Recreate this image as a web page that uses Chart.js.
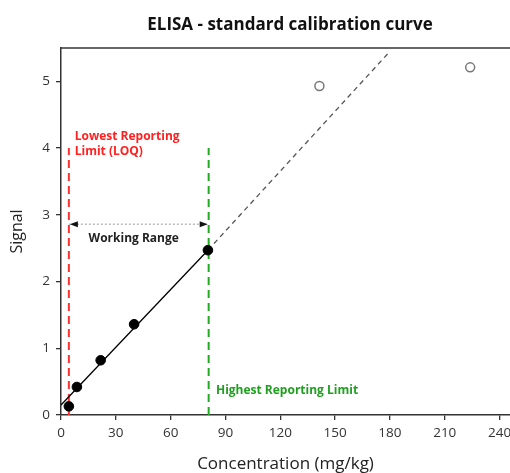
<!DOCTYPE html>
<html>
<head>
<meta charset="utf-8">
<title>ELISA calibration curve</title>
<script src="https://cdn.jsdelivr.net/npm/chart.js@4.4.1/dist/chart.umd.min.js"></script>
<style>
  html, body { margin: 0; padding: 0; background: #fff; }
  #wrap { width: 510px; height: 473px; position: relative; }
</style>
</head>
<body>
<div id="wrap"><canvas id="chart"></canvas></div>
<script>
// standards used for the fit
const stdConc = [4.3, 8.7, 21.7, 40, 80.4];
const stdSignal = [0.13, 0.42, 0.82, 1.36, 2.47];

// points above the working range (open circles)
const highConc = [141.4, 223.9];
const highSignal = [4.93, 5.21];

// fitted line, solid part and dashed extrapolation
const fitConc = [0, 80.4];
const fitSignal = [0.15, 2.47];
const extConc = [80.4, 179];
const extSignal = [2.47, 5.42];

// reporting limits
const loqConc = 4.3;
const hrlConc = 80.8;
const limitTop = 4;
const rangeSignal = 2.86;

const xTicks = [0, 30, 60, 90, 120, 150, 180, 210, 240];
const yTicks = [0, 1, 2, 3, 4, 5];

const pts = (xs, ys) => xs.map((x, i) => ({ x: x, y: ys[i] }));

Chart.defaults.font.family = '"Open Sans", sans-serif';
Chart.defaults.color = '#333';

const annotations = {
    id: 'annotations',
    afterDatasetsDraw(chart) {
        const ctx = chart.ctx;
        const xs = chart.scales.x, ys = chart.scales.y;
        const a = chart.chartArea;

        // top frame line
        ctx.save();
        ctx.strokeStyle = '#333';
        ctx.lineWidth = 1.5;
        ctx.beginPath();
        ctx.moveTo(a.left, a.top);
        ctx.lineTo(a.right, a.top);
        ctx.stroke();

        // arrow heads on the working range line
        const meta = chart.getDatasetMeta(6);
        const p0 = meta.data[0], p1 = meta.data[1];
        ctx.fillStyle = '#111';
        [[p0, 1], [p1, -1]].forEach(([p, dir]) => {
            ctx.beginPath();
            ctx.moveTo(p.x + 1 * dir, p.y);
            ctx.lineTo(p.x + 9 * dir, p.y - 3);
            ctx.lineTo(p.x + 9 * dir, p.y + 3);
            ctx.closePath();
            ctx.fill();
        });

        // labels
        ctx.textBaseline = 'middle';
        ctx.font = 'bold 12px "Open Sans", sans-serif';
        ctx.fillStyle = '#ff2020';
        ctx.textAlign = 'left';
        ctx.fillText('Lowest Reporting', xs.getPixelForValue(7.5), ys.getPixelForValue(4.18));
        ctx.fillText('Limit (LOQ)', xs.getPixelForValue(7.5), ys.getPixelForValue(3.95));

        ctx.fillStyle = '#1fa01f';
        ctx.fillText('Highest Reporting Limit', xs.getPixelForValue(84.8), ys.getPixelForValue(0.36));

        ctx.fillStyle = '#222';
        ctx.textAlign = 'center';
        ctx.fillText('Working Range', xs.getPixelForValue(39.8), ys.getPixelForValue(2.65));

        // title
        ctx.font = 'bold 17px "Open Sans", sans-serif';
        ctx.fillStyle = '#111';
        ctx.fillText('ELISA - standard calibration curve', 290, 25);
        ctx.restore();
    }
};

new Chart(document.getElementById('chart'), {
    type: 'scatter',
    data: {
        datasets: [
            {
                label: 'standards',
                data: pts(stdConc, stdSignal),
                backgroundColor: '#000',
                borderColor: '#000',
                pointRadius: 4.8,
                pointHoverRadius: 4.8
            },
            {
                label: 'above range',
                data: pts(highConc, highSignal),
                backgroundColor: '#fff',
                borderColor: '#777',
                borderWidth: 1.5,
                pointRadius: 4.5
            },
            {
                label: 'fit',
                data: pts(fitConc, fitSignal),
                showLine: true,
                borderColor: '#000',
                borderWidth: 1.3,
                pointRadius: 0
            },
            {
                label: 'extrapolation',
                data: pts(extConc, extSignal),
                showLine: true,
                borderColor: '#555',
                borderWidth: 1.3,
                borderDash: [5, 4],
                pointRadius: 0
            },
            {
                label: 'LOQ',
                data: [{ x: loqConc, y: 0 }, { x: loqConc, y: limitTop }],
                showLine: true,
                borderColor: '#ff3030',
                borderWidth: 2,
                borderDash: [8, 5],
                pointRadius: 0
            },
            {
                label: 'HRL',
                data: [{ x: hrlConc, y: 0 }, { x: hrlConc, y: limitTop }],
                showLine: true,
                borderColor: '#22aa22',
                borderWidth: 2,
                borderDash: [8, 5],
                pointRadius: 0
            },
            {
                label: 'working range',
                data: [{ x: loqConc, y: rangeSignal }, { x: hrlConc, y: rangeSignal }],
                showLine: true,
                borderColor: '#999',
                borderWidth: 1,
                borderDash: [2, 2],
                pointRadius: 0
            }
        ]
    },
    options: {
        responsive: true,
        maintainAspectRatio: false,
        animation: false,
        events: [],
        layout: { autoPadding: false, padding: { top: 48, right: 0, bottom: 0, left: 0 } },
        plugins: {
            legend: { display: false },
            tooltip: { enabled: false }
        },
        scales: {
            x: {
                type: 'linear',
                min: 0,
                max: 245.7,
                afterBuildTicks: s => { s.ticks = xTicks.map(v => ({ value: v })); },
                afterFit: s => { s.height = 58; s.paddingLeft = 0; s.paddingRight = 0; },
                grid: { drawOnChartArea: false, drawTicks: true, tickLength: 5, color: '#333', lineWidth: 1.3 },
                border: { color: '#333', width: 1.5 },
                ticks: { color: '#333', font: { size: 13.5 }, padding: 5, maxRotation: 0 },
                title: { display: true, text: 'Concentration (mg/kg)', color: '#222', font: { size: 17, lineHeight: 1 }, padding: { top: 0, bottom: 0 } }
            },
            y: {
                min: 0,
                max: 5.5,
                afterBuildTicks: s => { s.ticks = yTicks.map(v => ({ value: v })); },
                afterFit: s => { s.width = 61; s.paddingTop = 0; s.paddingBottom = 0; },
                grid: { drawOnChartArea: false, drawTicks: true, tickLength: 5, color: '#333', lineWidth: 1.3 },
                border: { color: '#333', width: 1.5 },
                ticks: { color: '#333', font: { size: 13.5 }, padding: 6 },
                title: { display: true, text: 'Signal', color: '#222', font: { size: 16 }, padding: { top: 8, bottom: 0 } }
            }
        }
    },
    plugins: [annotations]
});
</script>
</body>
</html>
